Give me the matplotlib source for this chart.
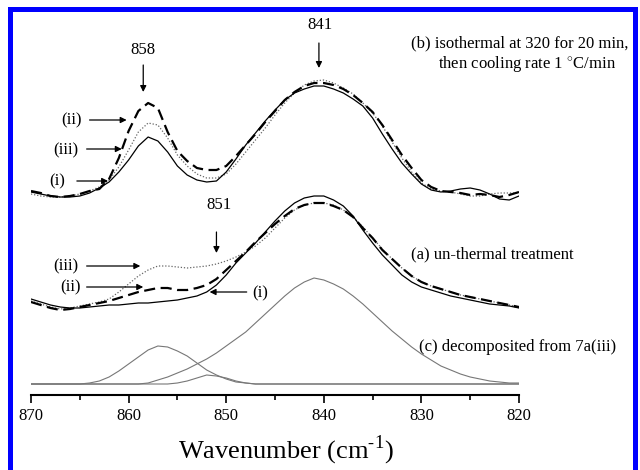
import matplotlib
matplotlib.use('Agg')
import matplotlib.pyplot as plt
from matplotlib.patches import Rectangle
import numpy as np

plt.rcParams['font.family'] = 'serif'
plt.rcParams['font.serif'] = ['Liberation Serif', 'DejaVu Serif']
plt.rcParams['mathtext.fontset'] = 'custom'
plt.rcParams['mathtext.rm'] = 'Liberation Serif'

# wavenumber grid (cm-1), 870 -> 820
wavenumber = np.arange(870, 819, -1)

# (b) isothermal at 320 for 20 min, then cooling 1 C/min
b_i = [2.03, 2.01, 1.99, 1.98, 1.98, 1.99, 2.02, 2.07, 2.13, 2.23,
       2.35, 2.49, 2.58, 2.54, 2.43, 2.29, 2.20, 2.15, 2.13, 2.14,
       2.23, 2.36, 2.50, 2.62, 2.74, 2.85, 2.95, 3.02, 3.06, 3.09,
       3.09, 3.06, 3.02, 2.96, 2.89, 2.77, 2.61, 2.46, 2.32, 2.21,
       2.11, 2.05, 2.03, 2.04, 2.06, 2.07, 2.05, 2.01, 1.96, 1.95, 1.99]
b_ii = [2.04, 2.02, 1.99, 1.98, 1.99, 2.01, 2.04, 2.06, 2.16, 2.37,
        2.64, 2.84, 2.92, 2.87, 2.63, 2.44, 2.34, 2.27, 2.25, 2.25,
        2.29, 2.39, 2.50, 2.61, 2.73, 2.84, 2.95, 3.03, 3.09, 3.12,
        3.12, 3.10, 3.06, 3.00, 2.92, 2.83, 2.70, 2.55, 2.40, 2.27,
        2.15, 2.08, 2.04, 2.03, 2.02, 2.00, 2.01, 2.00, 1.98, 2.00, 2.03]
b_iii = [2.01, 1.99, 1.98, 1.98, 1.99, 2.01, 2.04, 2.08, 2.15, 2.28,
         2.45, 2.63, 2.72, 2.70, 2.57, 2.40, 2.29, 2.21, 2.17, 2.17,
         2.21, 2.31, 2.43, 2.55, 2.67, 2.80, 2.92, 3.02, 3.10, 3.14,
         3.15, 3.12, 3.07, 3.01, 2.92, 2.82, 2.69, 2.53, 2.37, 2.23,
         2.12, 2.06, 2.04, 2.03, 2.01, 1.99, 1.99, 2.01, 2.02, 2.02, 2.02]

# (a) un-thermal treatment
a_i = [0.96, 0.93, 0.90, 0.88, 0.87, 0.87, 0.88, 0.89, 0.90, 0.90,
       0.91, 0.92, 0.92, 0.93, 0.94, 0.95, 0.97, 0.99, 1.03, 1.10,
       1.20, 1.32, 1.42, 1.52, 1.63, 1.74, 1.84, 1.92, 1.97, 1.99,
       1.99, 1.95, 1.89, 1.79, 1.65, 1.52, 1.40, 1.30, 1.20, 1.13,
       1.08, 1.05, 1.02, 0.99, 0.97, 0.95, 0.93, 0.91, 0.90, 0.89, 0.87]
a_ii = [0.93, 0.90, 0.87, 0.85, 0.86, 0.88, 0.90, 0.92, 0.94, 0.97,
        1.00, 1.03, 1.05, 1.07, 1.07, 1.05, 1.05, 1.07, 1.10, 1.16,
        1.25, 1.34, 1.43, 1.53, 1.62, 1.71, 1.79, 1.86, 1.90, 1.92,
        1.92, 1.89, 1.85, 1.78, 1.67, 1.57, 1.45, 1.36, 1.27, 1.19,
        1.13, 1.09, 1.06, 1.03, 1.00, 0.98, 0.96, 0.94, 0.92, 0.90, 0.88]
a_iii = [0.94, 0.91, 0.88, 0.86, 0.87, 0.89, 0.91, 0.93, 0.96, 1.03,
         1.11, 1.19, 1.25, 1.29, 1.29, 1.28, 1.27, 1.28, 1.29, 1.31,
         1.34, 1.38, 1.43, 1.49, 1.57, 1.67, 1.77, 1.85, 1.90, 1.92,
         1.92, 1.90, 1.85, 1.78, 1.68, 1.57, 1.46, 1.36, 1.27, 1.19,
         1.13, 1.09, 1.06, 1.03, 1.00, 0.98, 0.96, 0.94, 0.92, 0.90, 0.88]

# (c) decomposed bands from 7a(iii)
c_841 = [0.11, 0.11, 0.11, 0.11, 0.11, 0.11, 0.11, 0.11, 0.11, 0.11,
         0.11, 0.11, 0.12, 0.15, 0.18, 0.22, 0.26, 0.31, 0.36, 0.42,
         0.49, 0.56, 0.63, 0.72, 0.81, 0.90, 0.99, 1.07, 1.13, 1.17,
         1.15, 1.11, 1.06, 0.99, 0.91, 0.82, 0.73, 0.64, 0.56, 0.48,
         0.41, 0.35, 0.29, 0.25, 0.21, 0.18, 0.16, 0.14, 0.13, 0.12, 0.12]
c_857 = [0.11, 0.11, 0.11, 0.11, 0.11, 0.11, 0.12, 0.14, 0.18, 0.24,
         0.31, 0.38, 0.45, 0.49, 0.48, 0.44, 0.39, 0.32, 0.25, 0.20,
         0.16, 0.13, 0.12, 0.11, 0.11, 0.11, 0.11, 0.11, 0.11, 0.11,
         0.11, 0.11, 0.11, 0.11, 0.11, 0.11, 0.11, 0.11, 0.11, 0.11,
         0.11, 0.11, 0.11, 0.11, 0.11, 0.11, 0.11, 0.11, 0.11, 0.11, 0.11]
c_851 = [0.11, 0.11, 0.11, 0.11, 0.11, 0.11, 0.11, 0.11, 0.11, 0.11,
         0.11, 0.11, 0.11, 0.11, 0.11, 0.12, 0.14, 0.17, 0.20, 0.19,
         0.17, 0.14, 0.12, 0.11, 0.11, 0.11, 0.11, 0.11, 0.11, 0.11,
         0.11, 0.11, 0.11, 0.11, 0.11, 0.11, 0.11, 0.11, 0.11, 0.11,
         0.11, 0.11, 0.11, 0.11, 0.11, 0.11, 0.11, 0.11, 0.11, 0.11, 0.11]

solid = dict(color='black', lw=0.9)
dashed = dict(color='black', lw=1.6, dashes=(5, 2.5))
dotted = dict(color='#666666', lw=0.9, linestyle=(0, (1, 1.5)))
comp = dict(color='#777777', lw=0.8)

fig = plt.figure(figsize=(6.4, 4.7), dpi=100)
ax = fig.add_axes([31 / 640, 75 / 470, 488 / 640, 383 / 470])

ax.plot(wavenumber, c_841, **comp)
ax.plot(wavenumber, c_857, **comp)
ax.plot(wavenumber, c_851, **comp)
ax.plot(wavenumber, b_iii, **dotted)
ax.plot(wavenumber, b_i, **solid)
ax.plot(wavenumber, b_ii, **dashed)
ax.plot(wavenumber, a_iii, **dotted)
ax.plot(wavenumber, a_i, **solid)
ax.plot(wavenumber, a_ii, **dashed)

ax.set_xlim(870, 820)
ax.set_ylim(0, 3.83)
ax.set_xticks([870, 860, 850, 840, 830, 820])
ax.set_xticks(np.arange(865, 820, -10), minor=True)
ax.tick_params(axis='x', which='major', direction='out', length=6, width=1.2,
               labelsize=12, pad=3)
ax.tick_params(axis='x', which='minor', direction='out', length=3.5, width=1.2)
ax.set_yticks([])
for s in ['top', 'left', 'right']:
    ax.spines[s].set_visible(False)
ax.spines['bottom'].set_linewidth(1.5)

arrow = dict(arrowstyle='-|>', color='black', lw=0.9, mutation_scale=9,
             shrinkA=0, shrinkB=0)

def label_arrow(text, xy, xytext, tx, ty):
    ax.annotate('', xy=xy, xytext=xytext, arrowprops=arrow)
    ax.text(tx, ty, text, fontsize=12, ha='center', va='center')

# peak markers
label_arrow('858', (858.5, 3.03), (858.5, 3.30), 858.5, 3.45)
label_arrow('841', (840.5, 3.27), (840.5, 3.52), 840.4, 3.70)
label_arrow('851', (851.0, 1.42), (851.0, 1.63), 850.7, 1.90)

# curve labels for (b)
label_arrow('(ii)', (860.2, 2.75), (864.0, 2.75), 865.8, 2.75)
label_arrow('(iii)', (860.7, 2.46), (864.3, 2.46), 866.4, 2.45)
label_arrow('(i)', (862.1, 2.14), (865.3, 2.14), 867.3, 2.14)
# curve labels for (a)
label_arrow('(iii)', (858.8, 1.29), (864.3, 1.29), 866.4, 1.29)
label_arrow('(ii)', (858.5, 1.08), (864.3, 1.08), 866.0, 1.08)
label_arrow('(i)', (851.7, 1.03), (847.9, 1.03), 846.5, 1.02)

ax.text(831.1, 3.52, '(b) isothermal at 320 for 20 min,', fontsize=12,
        ha='left', va='center')
ax.text(828.3, 3.30, 'then cooling rate 1 $^{\\circ}$C/min', fontsize=12,
        ha='left', va='center')
ax.text(831.1, 1.41, '(a) un-thermal treatment', fontsize=12,
        ha='left', va='center')
ax.text(830.2, 0.48, '(c) decomposited from 7a(iii)', fontsize=12,
        ha='left', va='center')

fig.text(286 / 640, 1 - 450 / 470, 'Wavenumber (cm$^{\\mathrm{\u2010}1}$)',
         fontsize=19, ha='center', va='center')

# blue frame around the figure
fig.patches.append(Rectangle((9.5 / 640, -0.1), 625 / 640, 1.1 - 9.5 / 470,
                             transform=fig.transFigure, fill=False,
                             edgecolor='#0000ff', lw=3.6))

fig.savefig('out.png', dpi=100)
